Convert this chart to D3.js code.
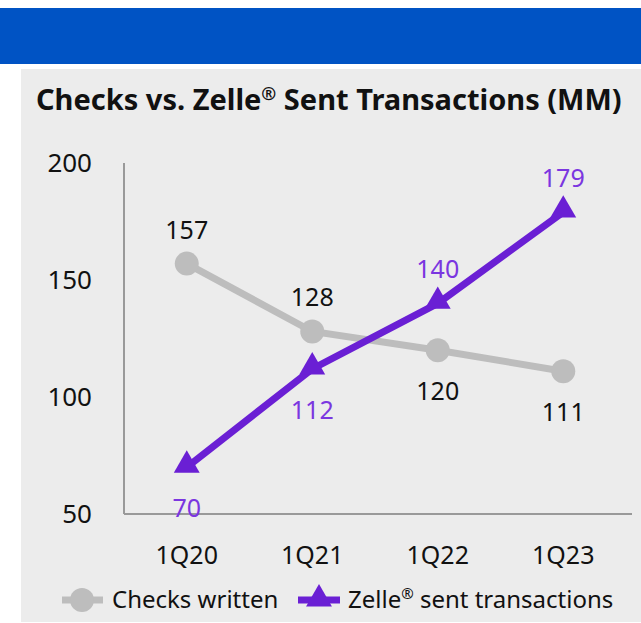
<!DOCTYPE html>
<html lang="en">
<head>
<meta charset="UTF-8">
<script src="https://d3js.org/d3.v7.min.js"></script>
<title>Checks vs Zelle</title>
<style>
  body { margin: 0; background: #fff; }
  text { font-family: "Noto Sans", sans-serif; }
</style>
</head>
<body>
<div id="chart"></div>
<script>
// Data
const quarters = ["1Q20", "1Q21", "1Q22", "1Q23"];
const checks = [157, 128, 120, 111];
const zelle = [70, 112, 140, 179];
const yTicks = [50, 100, 150, 200];

const width = 641, height = 623;
const grey = "#bdbdbd", purple = "#6a1fd4", purpleText = "#7b36e0";

const svg = d3.select("#chart").append("svg")
    .attr("width", width)
    .attr("height", height);

// Blue banner + grey panel
svg.append("rect").attr("x", 0).attr("y", 8).attr("width", width).attr("height", 56).attr("fill", "#0053c4");
svg.append("rect").attr("x", 21).attr("y", 69).attr("width", width - 21).attr("height", 553).attr("fill", "#ececec");

svg.append("text")
    .attr("x", 36).attr("y", 110)
    .attr("font-size", 29).attr("font-weight", 700)
    .attr("fill", "#111")
    .html('Checks vs. Zelle<tspan font-size="18" dy="-10">®</tspan><tspan dy="10"> Sent Transactions (MM)</tspan>');

// Scales
const x = d3.scaleBand().domain(quarters).range([124, 626]);
const y = d3.scaleLinear().domain([50, 200]).range([514, 163]);
const cx = q => x(q) + x.bandwidth() / 2;

// Axes
svg.append("line").attr("x1", 124).attr("x2", 124).attr("y1", y(200)).attr("y2", y(50))
    .attr("stroke", "#999").attr("stroke-width", 2);
svg.append("line").attr("x1", 124).attr("x2", 632).attr("y1", y(50)).attr("y2", y(50))
    .attr("stroke", "#999").attr("stroke-width", 2);

svg.append("g").selectAll("text").data(yTicks).join("text")
    .attr("x", 92).attr("y", d => y(d)).attr("dy", "0.35em")
    .attr("text-anchor", "end").attr("font-size", 26).attr("fill", "#111")
    .text(d => d);

svg.append("g").selectAll("text").data(quarters).join("text")
    .attr("x", d => cx(d)).attr("y", 564)
    .attr("text-anchor", "middle").attr("font-size", 25).attr("fill", "#111")
    .text(d => d);

const line = d3.line().x((d, i) => cx(quarters[i])).y(d => y(d));

// Checks series
svg.append("path").datum(checks).attr("d", line)
    .attr("fill", "none").attr("stroke", grey).attr("stroke-width", 7);
svg.append("g").selectAll("circle").data(checks).join("circle")
    .attr("cx", (d, i) => cx(quarters[i])).attr("cy", d => y(d)).attr("r", 12)
    .attr("fill", grey);
const checkBelow = [false, false, true, true];
svg.append("g").selectAll("text").data(checks).join("text")
    .attr("x", (d, i) => cx(quarters[i]))
    .attr("y", (d, i) => checkBelow[i] ? y(d) + 50 : y(d) - 25)
    .attr("text-anchor", "middle").attr("font-size", 25).attr("fill", "#111")
    .text(d => d);

// Zelle series
const tri = d3.symbol().type(d3.symbolTriangle).size(290);
svg.append("path").datum(zelle).attr("d", line)
    .attr("fill", "none").attr("stroke", purple).attr("stroke-width", 7);
svg.append("g").selectAll("path").data(zelle).join("path")
    .attr("transform", (d, i) => `translate(${cx(quarters[i])},${y(d) - 2})`)
    .attr("d", tri).attr("fill", purple);
const zelleBelow = [true, true, false, false];
svg.append("g").selectAll("text").data(zelle).join("text")
    .attr("x", (d, i) => cx(quarters[i]))
    .attr("y", (d, i) => zelleBelow[i] ? y(d) + 50 : y(d) - 25)
    .attr("text-anchor", "middle").attr("font-size", 25).attr("fill", purpleText)
    .text(d => d);

// Legend
const lg = svg.append("g").attr("transform", "translate(0,600)");
lg.append("line").attr("x1", 62).attr("x2", 103).attr("stroke", grey).attr("stroke-width", 7);
lg.append("circle").attr("cx", 82).attr("r", 12).attr("fill", grey);
lg.append("text").attr("x", 112).attr("y", 8).attr("font-size", 24).attr("fill", "#111")
    .text("Checks written");
lg.append("line").attr("x1", 298).attr("x2", 340).attr("stroke", purple).attr("stroke-width", 7);
lg.append("path").attr("transform", "translate(319,-1)").attr("d", tri).attr("fill", purple);
lg.append("text").attr("x", 348).attr("y", 8).attr("font-size", 24).attr("fill", "#111")
    .html('Zelle<tspan font-size="15" dy="-9">®</tspan><tspan dy="9"> sent transactions</tspan>');
</script>
</body>
</html>
